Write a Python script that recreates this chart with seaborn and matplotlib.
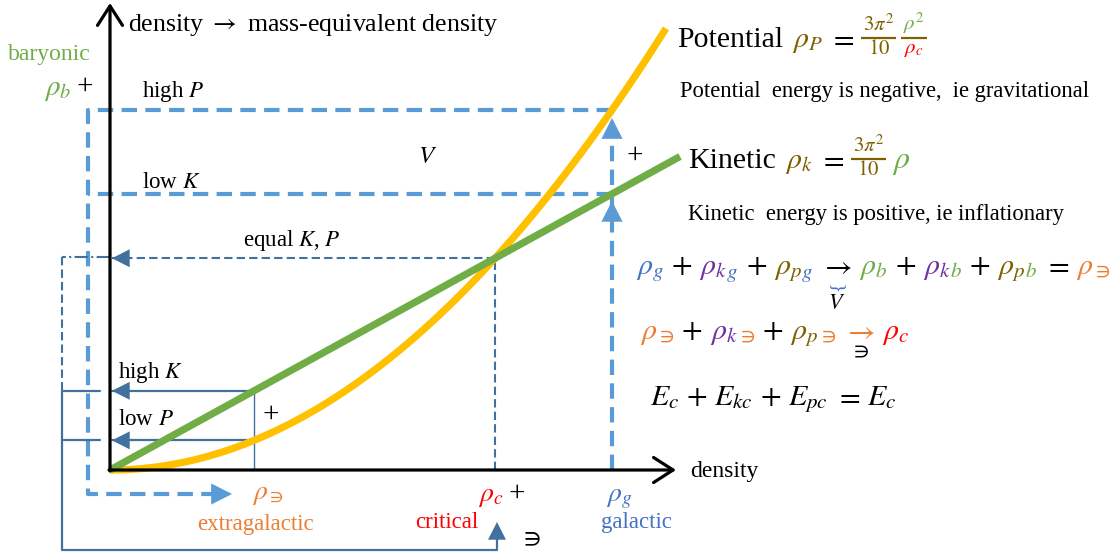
import numpy as np
import pandas as pd
import matplotlib
matplotlib.use("Agg")
import matplotlib.pyplot as plt
import seaborn as sns

# ---------------- data (density units of the diagram) ----------------
rho_ext = 144          # extragalactic density
rho_c = 385            # critical density
rho_g = 502            # galactic density
kin_slope = 0.55       # kinetic: rho_k = (3pi^2/10) rho  (diagram scale)
kin_rho_max = 570
pot_rho_max = 556      # potential: rho_P = (3pi^2/10) rho^2 / rho_c
x_axis_len = 566
y_axis_len = 467

# colours
C_Y = '#FFC000'; C_G = '#70AD47'; C_LB = '#5B9BD5'; C_DB = '#41719C'
C_OR = '#ED7D31'; C_RED = '#FF0000'; C_BL = '#4472C4'; C_PU = '#7030A0'
C_OL = '#7F6000'

sns.set_theme(style="white")
plt.rcParams['font.family'] = ['Liberation Serif', 'DejaVu Serif']
plt.rcParams['mathtext.fontset'] = 'stix'

fig = plt.figure(figsize=(11.19, 5.59), dpi=100)
ax = fig.add_axes([0, 0, 1, 1])
ax.set_xlim(-110, 1009)
ax.set_ylim(-89, 470)
ax.axis('off')
R = fig.canvas.get_renderer()

def P(px, py):
    return px - 110, 470 - py

def K(r):
    return kin_slope * r

def Pot(r):
    return kin_slope * r ** 2 / rho_c

# ---------------- curves ----------------
rr = np.linspace(0, pot_rho_max, 200)
pot_df = pd.DataFrame({'rho': rr, 'val': Pot(rr)})
kin_df = pd.DataFrame({'rho': [0, kin_rho_max], 'val': [0, K(kin_rho_max)]})
sns.lineplot(data=pot_df, x='rho', y='val', ax=ax, color=C_Y, lw=5.2,
             solid_capstyle='butt', zorder=3)
sns.lineplot(data=kin_df, x='rho', y='val', ax=ax, color=C_G, lw=5.2,
             solid_capstyle='butt', zorder=4)

# ---------------- axes with open arrow heads ----------------
def open_arrow(start, end):
    ax.annotate('', xy=end, xytext=start,
                arrowprops=dict(arrowstyle='->,head_length=0.7,head_width=0.45',
                                lw=2.3, color='black', shrinkA=0, shrinkB=0,
                                mutation_scale=20), zorder=5)

open_arrow((-1, 0), (x_axis_len, 0))
open_arrow((0, -1), (0, y_axis_len))

def head(tip, direction, color, size=16):
    dx, dy = direction
    n = np.hypot(dx, dy)
    back = (tip[0] - dx / n * 2, tip[1] - dy / n * 2)
    ax.annotate('', xy=tip, xytext=back,
                arrowprops=dict(arrowstyle='-|>,head_length=0.75,head_width=0.38',
                                lw=0, color=color, shrinkA=0, shrinkB=0,
                                mutation_scale=size), zorder=6)

# ---------------- light blue dashed paths ----------------
lb_kw = dict(color=C_LB, lw=3.0, linestyle=(0, (3.7, 2.0)), zorder=2)
hiP = Pot(rho_g)
loK = K(rho_g)
ax.plot([rho_g, rho_g], [0, hiP], **lb_kw)
ax.plot([rho_g, -22, -22, 110], [hiP, hiP, -24, -24], **lb_kw)
ax.plot([rho_g, -22], [loK, loK], **lb_kw)
head((rho_g, hiP - 8), (0, 1), C_LB, 20)
head((rho_g, loK - 7), (0, 1), C_LB, 20)
head((122, -24), (1, 0), C_LB, 20)

# ---------------- dark blue paths ----------------
eq = K(rho_c)
db_dash = dict(color=C_DB, lw=1.5, linestyle=(0, (4, 2)), zorder=2)
ax.plot([rho_c, rho_c], [0, eq], **db_dash)
ax.plot([rho_c, 2], [eq, eq], **db_dash)
ax.plot([0, -48], [eq + 1, eq + 1], color=C_DB, lw=1.5, linestyle='-.', zorder=2)
ax.plot([-48, -48], [eq + 1, K(rho_ext)], **db_dash)
head((2, eq), (-1, 0), C_DB, 17)

db_kw = dict(color=C_DB, lw=1.6, zorder=2)
hiK = K(rho_ext)
loP = Pot(rho_ext)
ax.plot([rho_ext, 2], [hiK, hiK], **db_kw)
ax.plot([rho_ext, 2], [loP, loP], **db_kw)
ax.plot([rho_ext, rho_ext], [hiK, 0], color=C_DB, lw=1.0, zorder=2)
head((2, hiK), (-1, 0), C_DB, 17)
head((2, loP), (-1, 0), C_DB, 17)
ax.plot([-10, -48, -48, rho_c + 2, rho_c + 2], [hiK, hiK, -80, -80, -60], **db_kw)
ax.plot([-48, -10], [loP, loP], **db_kw)
head((rho_c + 2, -52), (0, 1), C_DB, 17)

# ---------------- helpers for text ----------------
def txt(px, py, s, size, color='black', ha='left', va='baseline', **kw):
    x, y = P(px, py)
    return ax.text(x, y, s, fontsize=size, color=color, ha=ha, va=va, **kw)

def width(t):
    return t.get_window_extent(R).width

def flow(px, py, pieces, size):
    """pieces: (string, colour, gap_before_px). returns list of (x0, x1)."""
    cx = px
    spans = []
    for s, col, gap in pieces:
        cx += gap
        t = txt(cx, py, s, size, col)
        w = width(t)
        spans.append((cx, cx + w))
        cx += w
    return spans

def frac(px, pybar, num, ncol, den, dcol, barcol, size, pad=2):
    tn = txt(0, 0, num, size, ncol, ha='center', va='bottom')
    td = txt(0, 0, den, size, dcol, ha='center', va='top')
    w = max(width(tn), width(td)) + 2 * pad
    cx = px + w / 2
    tn.set_position(P(cx, pybar - 2))
    td.set_position(P(cx, pybar + 2))
    x0, y0 = P(px, pybar)
    ax.plot([x0, x0 + w], [y0, y0], color=barcol, lw=1.6, solid_capstyle='butt')
    return px + w

# ---------------- axis labels / annotations ----------------
txt(128, 31, 'density $\\rightarrow$ mass-equivalent density', 18.6)
txt(690, 477, 'density', 17)
txt(8, 60, 'baryonic', 17, C_G)
txt(44, 95, '$\\rho_b$', 21, C_G)
txt(77, 94, '+', 21)
txt(142, 97, 'high $P$', 16.5)
txt(142, 188, 'low $K$', 16.5)
txt(418, 163, '$V$', 18)
txt(627, 163, '+', 21)
txt(243, 246, 'equal $K$, $P$', 16.5)
txt(118, 378, 'high $K$', 16.5)
txt(118, 425, 'low $P$', 16.5)
txt(263, 422, '+', 21)

txt(252, 499, '$\\rho_{\\ni}$', 20, C_OR)
txt(255, 530, 'extragalactic', 16.5, C_OR, ha='center')
txt(478, 501, '$\\rho_c$', 20, C_RED)
txt(509, 501, '+', 21)
txt(447, 528, 'critical', 16.5, C_RED, ha='center')
txt(520, 545, '$\\ni$', 18)
txt(606, 501, '$\\rho_g$', 20, C_BL)
txt(636, 528, 'galactic', 16.5, C_BL, ha='center')

# ---------------- right side formulas ----------------
sp = flow(677, 47, [('Potential', 'black', 0), ('$\\rho_P$', C_OL, 9),
                    ('$=$', 'black', 6)], 21.5)
xe = frac(sp[-1][1] + 7, 38, '$3\\pi^2$', C_OL, '$10$', C_OL, C_OL, 15)
frac(xe + 5, 38, '$\\rho^2$', C_G, '$\\rho_c$', C_RED, C_OL, 15)
txt(680, 97, 'Potential  energy is negative,  ie gravitational', 16.3)

sp = flow(688, 168, [('Kinetic', 'black', 0), ('$\\rho_k$', C_OL, 9),
                     ('$=$', 'black', 6)], 21.5)
xe = frac(sp[-1][1] + 7, 159, '$3\\pi^2$', C_OL, '$10$', C_OL, C_OL, 15)
txt(xe + 6, 168, '$\\rho$', 23, C_G)
txt(688, 220, 'Kinetic  energy is positive, ie inflationary', 16.3)

g = 7
E = 21.6
sp = flow(636, 274, [('$\\rho_g$', C_BL, 0), ('$+$', 'black', g),
                     ('$\\rho_k$', C_PU, g), ('${}_g$', C_BL, -1),
                     ('$+$', 'black', g),
                     ('$\\rho_p$', C_OL, g), ('${}_g$', C_BL, -1),
                     ('$\\rightarrow$', 'black', g),
                     ('$\\rho_b$', C_G, g), ('$+$', 'black', g),
                     ('$\\rho_k$', C_PU, g), ('${}_b$', C_G, -1),
                     ('$+$', 'black', g),
                     ('$\\rho_p$', C_OL, g), ('${}_b$', C_G, -1),
                     ('$=$', 'black', g), ('$\\rho_{\\ni}$', C_OR, g)], E)
ax_mid = (sp[7][0] + sp[7][1]) / 2
txt(ax_mid, 286, '{', 14, C_BL, ha='center', va='center', rotation=90)
txt(ax_mid, 309, '$V$', 16, ha='center')

sp = flow(640, 339, [('$\\rho_{\\ni}$', C_OR, 0), ('$+$', 'black', g),
                     ('$\\rho_k$', C_PU, g), ('${}_{\\ni}$', C_OR, -1),
                     ('$+$', 'black', g),
                     ('$\\rho_p$', C_OL, g), ('${}_{\\ni}$', C_OR, -1),
                     ('$\\rightarrow$', C_OR, g), ('$\\rho_c$', C_RED, g)], E)
ax_mid = (sp[7][0] + sp[7][1]) / 2
txt(ax_mid, 357, '$\\ni$', 16, ha='center')

flow(650, 405, [('$E_c$', 'black', 0), ('$+$', 'black', g), ('$E_{kc}$', 'black', g),
                ('$+$', 'black', g), ('$E_{pc}$', 'black', g), ('$=$', 'black', g),
                ('$E_c$', 'black', g)], E)

fig.savefig('out.png', dpi=100)
